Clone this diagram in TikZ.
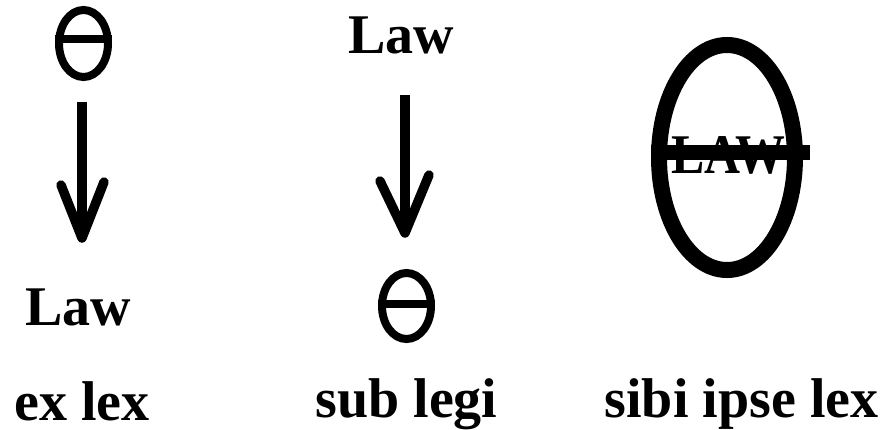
\documentclass[tikz,border=0pt]{standalone}
\usepackage{fontspec}
\setmainfont{Liberation Serif}
\begin{document}
\begin{tikzpicture}[x=1pt,y=-1pt,
  lbl/.style={inner sep=0pt, anchor=base, text depth=0pt, font=\fontsize{56}{60}\selectfont\bfseries},
  shaft/.style={line width=10pt},
  wing/.style={line width=9.5pt, line join=round, line cap=round}]
\useasboundingbox (0,0) rectangle (886,429);
\fill[white] (0,0) rectangle (886,429);
% left column
\draw[line width=8pt] (83.5,43.5) ellipse [x radius=24.5, y radius=33.5];
\node[inner sep=0pt, minimum width=57pt, minimum height=8pt, fill=black] (theta1) at (83.5,39) {};
\coordinate (a1s) at (82,102);
\coordinate (a1e) at (82,238);
\draw[shaft] (a1s) -- (a1e);
\draw[wing] (61,185) -- (a1e) -- (104,182);
\node[lbl] (law1) at (78,325) {Law};
\node[lbl] (exlex) at (82,420) {ex lex};
% middle column
\node[lbl] (law2) at (401.5,53) {Law};
\coordinate (a2s) at (405,95);
\coordinate (a2e) at (405,233);
\draw[shaft] (a2s) -- (a2e);
\draw[wing] (380,181) -- (a2e) -- (429,175);
\draw[line width=8pt] (406.5,306) ellipse [x radius=24.5, y radius=33];
\node[inner sep=0pt, minimum width=57pt, minimum height=8pt, fill=black] (theta2) at (406.5,304) {};
\node[lbl] (sublegi) at (406.5,417) {sub legi};
% right column
\node[lbl, xscale=0.89] (lawbig) at (728.5,173) {LAW};
\draw[line width=16pt] (727,157.5) ellipse [x radius=68, y radius=112.5];
\node[inner sep=0pt, minimum width=159pt, minimum height=15pt, fill=black] (bar3) at (730.5,152.5) {};
\node[lbl] (sibi) at (741.5,417) {sibi ipse lex};
\end{tikzpicture}
\end{document}
